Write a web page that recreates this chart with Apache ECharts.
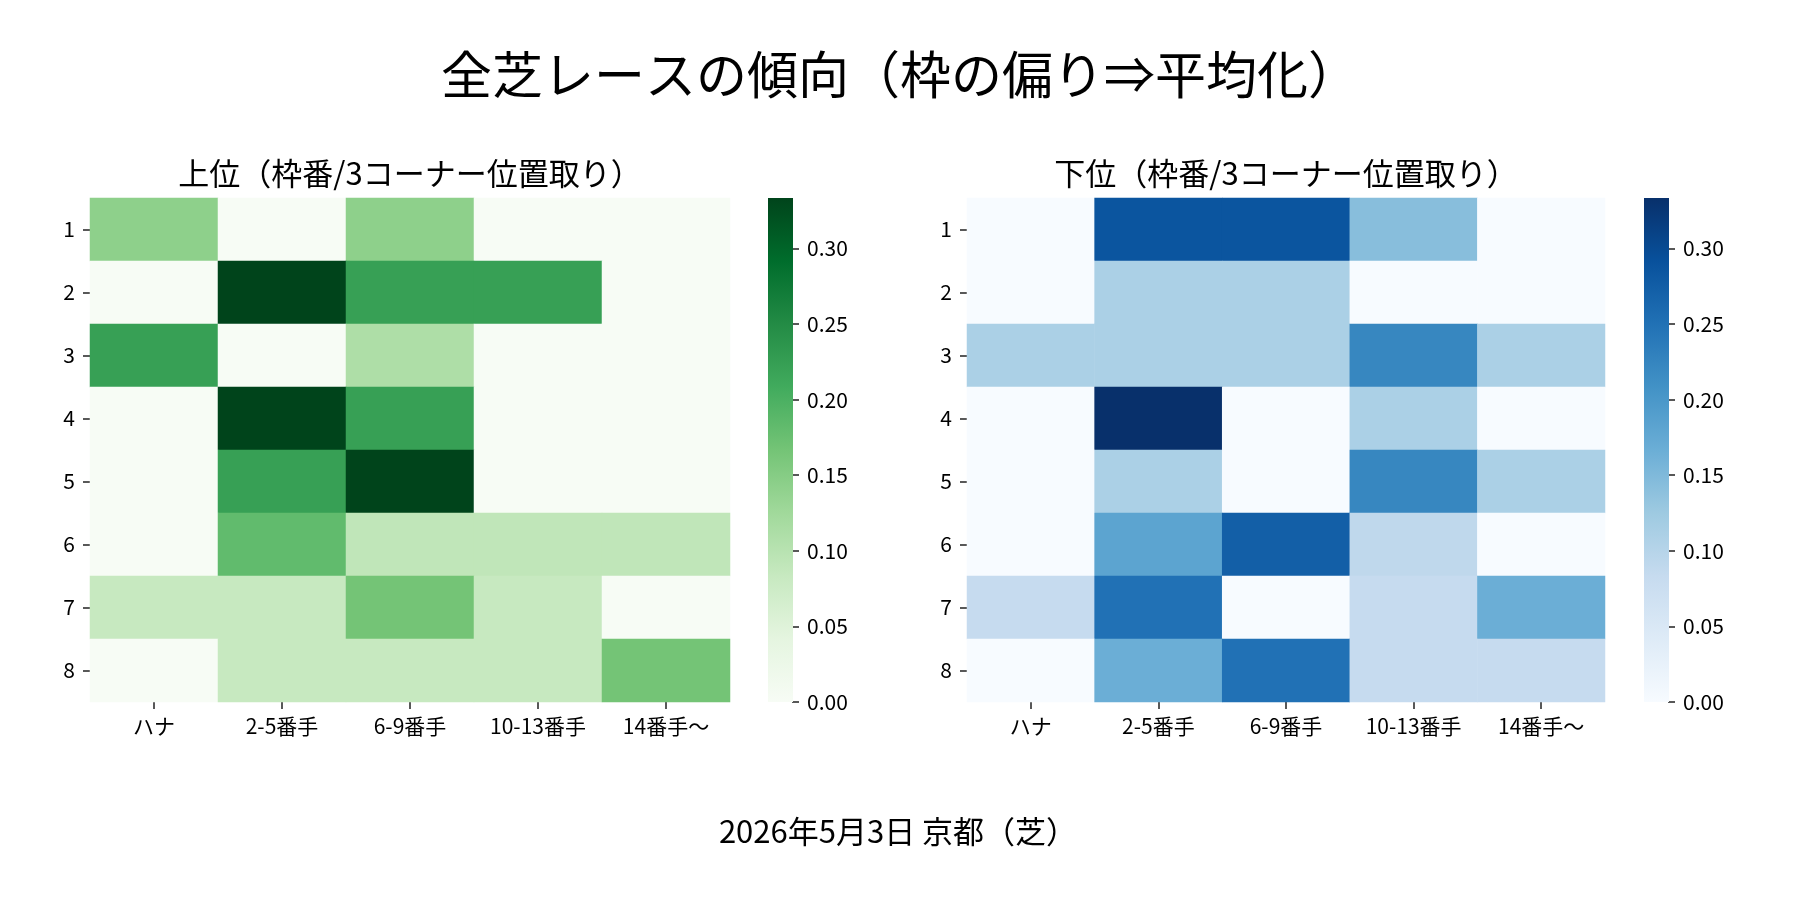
<!DOCTYPE html>
<html>
<head>
<meta charset="utf-8">
<script src="https://cdn.jsdelivr.net/npm/echarts@6/dist/echarts.min.js"></script>
<style>
html,body{margin:0;padding:0;background:#fff;}
#main{width:1800px;height:900px;}
</style>
</head>
<body>
<div id="main"></div>
<script>
const frames = ['1', '2', '3', '4', '5', '6', '7', '8'];
const positions = ['ハナ', '2-5番手', '6-9番手', '10-13番手', '14番手〜'];
const colorbarTicks = [0, 0.05, 0.10, 0.15, 0.20, 0.25, 0.30];
const colorMax = 0.3333;

// 上位 (rows = 枠番 1..8, cols = positions)
const upperValues = [
  [0.143, 0.000, 0.143, 0.000, 0.000],
  [0.000, 0.333, 0.222, 0.222, 0.000],
  [0.222, 0.000, 0.111, 0.000, 0.000],
  [0.000, 0.333, 0.222, 0.000, 0.000],
  [0.000, 0.222, 0.333, 0.000, 0.000],
  [0.000, 0.182, 0.091, 0.091, 0.091],
  [0.083, 0.083, 0.167, 0.083, 0.000],
  [0.000, 0.083, 0.083, 0.083, 0.167]
];
// 下位
const lowerValues = [
  [0.000, 0.286, 0.286, 0.143, 0.000],
  [0.000, 0.111, 0.111, 0.000, 0.000],
  [0.111, 0.111, 0.111, 0.222, 0.111],
  [0.000, 0.333, 0.000, 0.111, 0.000],
  [0.000, 0.111, 0.000, 0.222, 0.111],
  [0.000, 0.182, 0.273, 0.091, 0.000],
  [0.083, 0.250, 0.000, 0.083, 0.167],
  [0.000, 0.167, 0.250, 0.083, 0.083]
];

const greens = ['#f7fcf5', '#e5f5e0', '#c7e9c0', '#a1d99b', '#74c476', '#41ab5d', '#238b45', '#006d2c', '#00441b'];
const blues = ['#f7fbff', '#deebf7', '#c6dbef', '#9ecae1', '#6baed6', '#4292c6', '#2171b5', '#08519c', '#08306b'];

const FONT = '"Noto Sans CJK JP", "Noto Sans", sans-serif';

function toCells(matrix) {
  const out = [];
  matrix.forEach((row, r) => row.forEach((v, c) => out.push([c, r, v])));
  return out;
}

const L = {
  left1: 90, left2: 967, top: 198, w1: 640, w2: 638, h: 504,
  cb1: 768, cb2: 1644, cbw: 25
};

function gradient(colors) {
  return {
    type: 'linear', x: 0, y: 1, x2: 0, y2: 0,
    colorStops: colors.map((c, i) => ({ offset: i / (colors.length - 1), color: c }))
  };
}

function catX(gi) {
  return {
    type: 'category', gridIndex: gi, data: positions, position: 'bottom',
    axisLine: { show: false },
    axisTick: { show: true, alignWithLabel: true, length: 7, lineStyle: { color: '#222', width: 1.5 } },
    axisLabel: { fontSize: 21, color: '#000', margin: 14, fontFamily: FONT },
    splitLine: { show: false }, splitArea: { show: false }
  };
}
function catY(gi) {
  return {
    type: 'category', gridIndex: gi, data: frames, inverse: true,
    axisLine: { show: false },
    axisTick: { show: true, alignWithLabel: true, length: 7, lineStyle: { color: '#222', width: 1.5 } },
    axisLabel: { fontSize: 21, color: '#000', margin: 15, fontFamily: FONT },
    splitLine: { show: false }, splitArea: { show: false }
  };
}
function cbX(gi) {
  return { type: 'value', gridIndex: gi, show: false, min: 0, max: 1,
    axisLine: { show: false }, axisTick: { show: false }, axisLabel: { show: false }, splitLine: { show: false } };
}
function cbY(gi) {
  return {
    type: 'value', gridIndex: gi, position: 'right', min: 0, max: colorMax,
    axisLine: { show: false },
    axisTick: { show: true, length: 7, customValues: colorbarTicks, lineStyle: { color: '#222', width: 1.5 } },
    axisLabel: { show: true, customValues: colorbarTicks, fontSize: 21, color: '#000', margin: 14, fontFamily: FONT,
      formatter: v => v.toFixed(2) },
    splitLine: { show: false }, minorTick: { show: false }
  };
}

const chart = echarts.init(document.getElementById('main'), null, { renderer: 'canvas' });
chart.setOption({
  animation: false,
  backgroundColor: '#ffffff',
  title: {
    text: '全芝レースの傾向（枠の偏り⇒平均化）',
    left: 'center', top: 48, padding: 0,
    textStyle: { fontSize: 51, fontWeight: 'normal', color: '#000', fontFamily: FONT, lineHeight: 54 }
  },
  grid: [
    { left: L.left1, top: L.top, width: L.w1, height: L.h },
    { left: L.left2, top: L.top, width: L.w2, height: L.h },
    { left: L.cb1 + L.cbw - 1, top: L.top, width: 1, height: L.h },
    { left: L.cb2 + L.cbw - 1, top: L.top, width: 1, height: L.h }
  ],
  xAxis: [catX(0), catX(1), cbX(2), cbX(3)],
  yAxis: [catY(0), catY(1), cbY(2), cbY(3)],
  visualMap: [
    { type: 'continuous', show: false, seriesIndex: 0, min: 0, max: colorMax, inRange: { color: greens } },
    { type: 'continuous', show: false, seriesIndex: 1, min: 0, max: colorMax, inRange: { color: blues } }
  ],
  graphic: [
    { type: 'rect', z: 100, shape: { x: L.cb1, y: L.top, width: L.cbw, height: L.h }, style: { fill: gradient(greens) }, silent: true },
    { type: 'rect', z: 100, shape: { x: L.cb2, y: L.top, width: L.cbw, height: L.h }, style: { fill: gradient(blues) }, silent: true },
    { type: 'text', x: 410, y: 173, style: { text: '上位（枠番/3コーナー位置取り）', fontSize: 31, fontFamily: FONT, fill: '#000', align: 'center', verticalAlign: 'middle' } },
    { type: 'text', x: 1286, y: 173, style: { text: '下位（枠番/3コーナー位置取り）', fontSize: 31, fontFamily: FONT, fill: '#000', align: 'center', verticalAlign: 'middle' } },
    { type: 'text', x: 898, y: 831, style: { text: '2026年5月3日 京都（芝）', fontSize: 31, fontFamily: FONT, fill: '#000', align: 'center', verticalAlign: 'middle' } }
  ],
  series: [
    { type: 'heatmap', xAxisIndex: 0, yAxisIndex: 0, data: toCells(upperValues), label: { show: false },
      itemStyle: { borderWidth: 0 }, emphasis: { disabled: true } },
    { type: 'heatmap', xAxisIndex: 1, yAxisIndex: 1, data: toCells(lowerValues), label: { show: false },
      itemStyle: { borderWidth: 0 }, emphasis: { disabled: true } }
  ]
});
</script>
</body>
</html>
